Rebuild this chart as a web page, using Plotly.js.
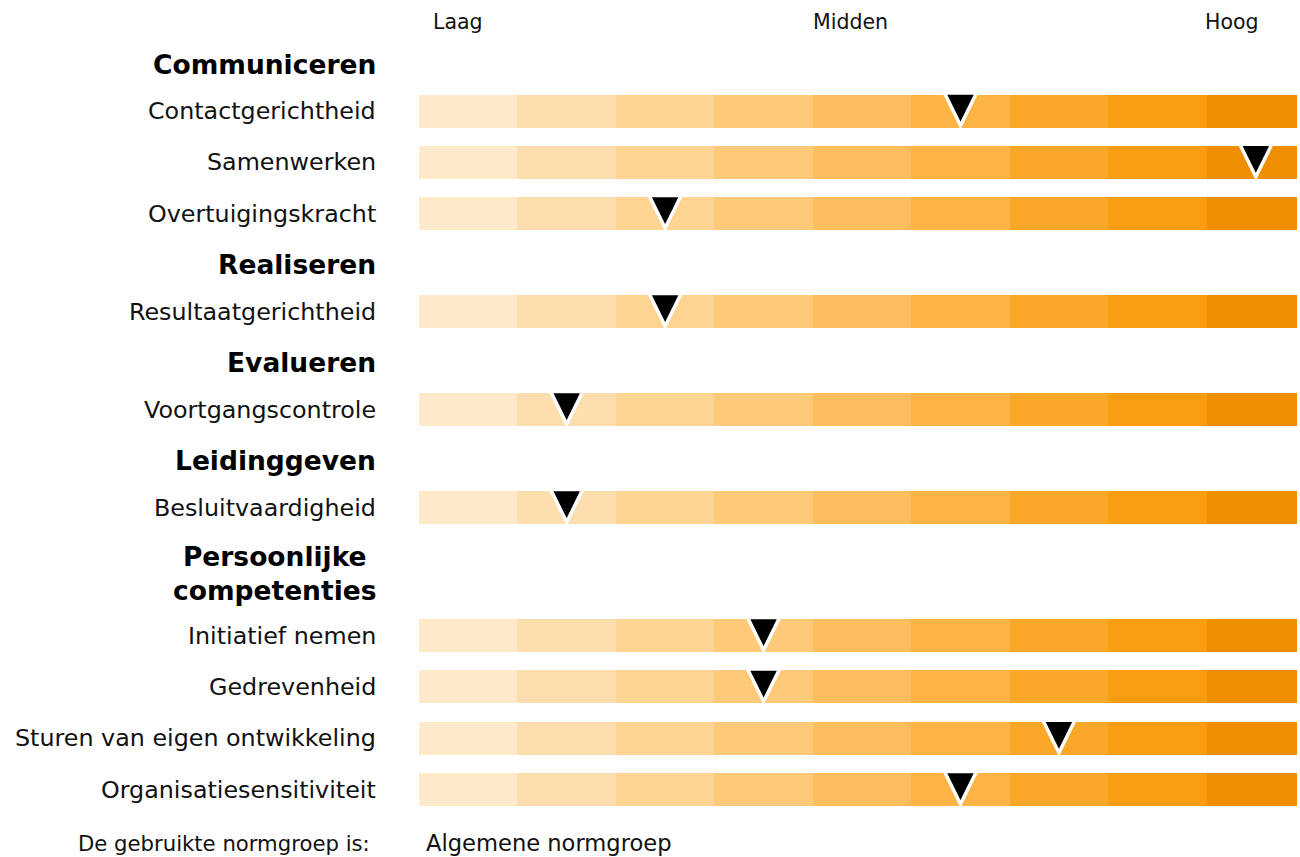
<!DOCTYPE html>
<html><head><meta charset="utf-8">
<script src="https://cdn.plot.ly/plotly-3.0.1.min.js"></script>
<style>html,body{margin:0;padding:0;background:#fff;overflow:hidden}</style>
</head><body><div id="chart" style="width:1300px;height:857px"></div>
<script>
// ---- data ----
const groups = ["Communiceren", "Realiseren", "Evalueren", "Leidinggeven", "Persoonlijke<br>competenties"];
const competencies = ["Contactgerichtheid", "Samenwerken", "Overtuigingskracht",
  "Resultaatgerichtheid", "Voortgangscontrole", "Besluitvaardigheid",
  "Initiatief nemen", "Gedrevenheid", "Sturen van eigen ontwikkeling", "Organisatiesensitiviteit"];
const competencyGroup = [0, 0, 0, 1, 2, 3, 4, 4, 4, 4];
const scores = [6, 9, 3, 3, 2, 2, 4, 4, 7, 6];          // level 1..9
const levelColors = ["#FEE9CB", "#FEDEAF", "#FED493", "#FEC978", "#FDBD5E",
                     "#FDB444", "#FBA72A", "#FA9D10", "#EF8E00"];
const scaleLabels = ["Laag", "Midden", "Hoog"];
const footerLabel = "De gebruikte normgroep is:";
const footerValue = "Algemene normgroep";

// ---- layout helpers (pixel-based vertical axis) ----
const W = 1300, H = 857;
const left = 419, right = 3;
const segPx = 98.45;
const plotW = W - left - right;
const xMax = plotW / segPx;

const itemStep = 51.3, headToItem = 47, itemToHead = 51, lineExtra = 30;
const rowY = [], headerY = [];
let y = 64, prevGroup = -1;
competencies.forEach((c, i) => {
  const g = competencyGroup[i];
  const extra = (groups[g].split("<br>").length - 1) * lineExtra / 2;
  if (g !== prevGroup) {
    if (prevGroup !== -1) y += itemToHead + extra;
    headerY[g] = y;
    y += headToItem + extra;
    prevGroup = g;
  } else {
    y += itemStep;
  }
  rowY.push(y);
});

const traces = levelColors.map((col, k) => ({
  type: "bar", orientation: "h",
  x: competencies.map(() => 1), y: rowY, width: 33,
  marker: {color: col, line: {width: 0}},
  hoverinfo: "skip", showlegend: false
}));

const font = "DejaVu Sans, Verdana, sans-serif";
const annotations = [];
competencies.forEach((c, i) => annotations.push({
  xref: "paper", yref: "y", x: 0, y: rowY[i], xanchor: "right", yanchor: "middle",
  xshift: -41, text: c, showarrow: false, font: {family: font, size: 23.8, color: "#111"}
}));
groups.forEach((g, i) => annotations.push({
  xref: "paper", yref: "y", x: 0, y: headerY[i], xanchor: "right", yanchor: "middle",
  xshift: -41, text: "<b>" + g + "</b>", showarrow: false, align: "center",
  font: {family: font, size: 26.5, color: "#000"}
}));
const scalePos = [[0.0135, "left"], [0.491, "center"], [0.9586, "right"]];
scaleLabels.forEach((t, i) => annotations.push({
  xref: "paper", yref: "y", x: scalePos[i][0], y: 22, xanchor: scalePos[i][1], yanchor: "middle",
  text: t, showarrow: false, font: {family: font, size: 20.5, color: "#111"}
}));
annotations.push({xref: "paper", yref: "y", x: 0, y: 843, xanchor: "right", yanchor: "middle",
  xshift: -47, text: footerLabel, showarrow: false, font: {family: font, size: 21.2, color: "#111"}});
annotations.push({xref: "paper", yref: "y", x: 0, y: 843, xanchor: "left", yanchor: "middle",
  xshift: 5, text: footerValue, showarrow: false, font: {family: font, size: 22.6, color: "#111"}});

const shapes = scores.map((s, i) => ({
  type: "path", xref: "x", yref: "y",
  xsizemode: "pixel", ysizemode: "pixel",
  xanchor: s - 0.5, yanchor: rowY[i],
  path: "M-16,18 L16,18 L0,-14.5 Z",
  fillcolor: "#000", line: {color: "#fff", width: 3.5}, layer: "above"
}));

Plotly.newPlot("chart", traces, {
  width: W, height: H, barmode: "stack", bargap: 0,
  margin: {l: left, r: right, t: 0, b: 0, pad: 0},
  paper_bgcolor: "#fff", plot_bgcolor: "#fff",
  xaxis: {range: [0, xMax], visible: false, fixedrange: true},
  yaxis: {range: [H, 0], visible: false, fixedrange: true},
  annotations, shapes, showlegend: false
}, {displayModeBar: false, staticPlot: true});
</script></body></html>
